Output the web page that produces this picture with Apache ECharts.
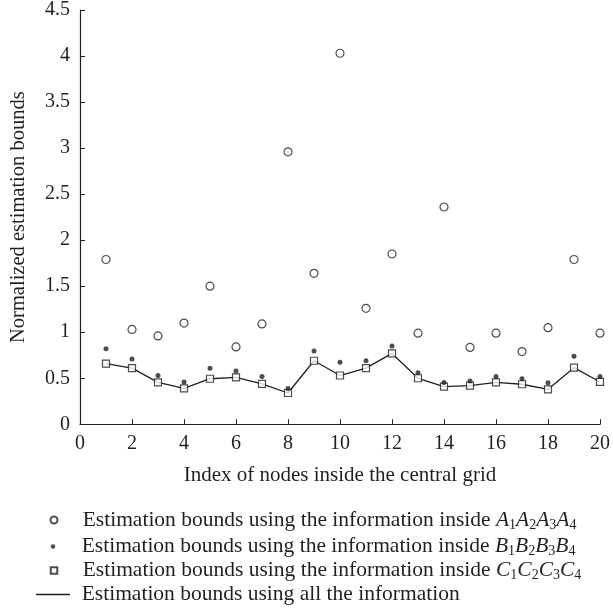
<!DOCTYPE html>
<html>
<head>
<meta charset="utf-8">
<script src="https://cdn.jsdelivr.net/npm/echarts@6/dist/echarts.min.js"></script>
<style>html,body{margin:0;padding:0;background:#fff;}#c{width:613px;height:609px;}</style>
</head>
<body>
<div id="c"></div>
<script>
var nodeIndex = [1,2,3,4,5,6,7,8,9,10,11,12,13,14,15,16,17,18,19,20];
var boundsA = [1.79,1.03,0.96,1.10,1.50,0.84,1.09,2.96,1.64,4.03,1.26,1.85,0.99,2.36,0.835,0.99,0.79,1.05,1.79,0.99];
var boundsB = [0.82,0.71,0.53,0.46,0.61,0.58,0.52,0.39,0.795,0.675,0.69,0.85,0.56,0.455,0.47,0.52,0.495,0.45,0.74,0.52];
var boundsC = [0.66,0.61,0.455,0.39,0.495,0.51,0.44,0.34,0.69,0.53,0.61,0.77,0.50,0.41,0.42,0.455,0.435,0.38,0.615,0.46];
var boundsAll = [0.66,0.61,0.455,0.39,0.495,0.51,0.44,0.34,0.69,0.53,0.61,0.77,0.50,0.41,0.42,0.455,0.435,0.38,0.615,0.46];
var xTicks = {min:0, max:20, interval:2};
var yTicks = {min:0, max:4.5, interval:0.5};

function pairs(v){ return v.map(function(y,i){ return [nodeIndex[i], y]; }); }

var FONT = "'Liberation Serif','DejaVu Serif',serif";
var INK = '#231f20';

function legendLabel(letter){
  if (letter === 'All') return '{g|}{n|Estimation bounds using all the information}';
  var s = '{g|}{n|Estimation bounds using the information inside }';
  for (var k=1;k<=4;k++) s += '{i|' + letter + '}{s|' + k + '}';
  return s;
}
function mkRich(gap){
  return {
    g: {width: gap, height: 1},
    n: {fontFamily: FONT, fontSize: 21.5, color: INK, lineHeight: 24},
    i: {fontFamily: FONT, fontSize: 21.5, fontStyle: 'italic', color: INK, lineHeight: 24},
    s: {fontFamily: FONT, fontSize: 14, color: INK, lineHeight: 16, verticalAlign: 'bottom'}
  };
}
var ICON_X = 53, TEXT_X = 81.7;
function mkLegend(name, icon, top, w, h, leftOverride){
  var left = (leftOverride !== undefined) ? leftOverride : ICON_X - w/2;
  var gap = TEXT_X - (left + w + 5);
  return {
    data: [{name: name, icon: icon}], top: top, left: left, orient: 'vertical',
    itemWidth: w, itemHeight: h, selectedMode: false, padding: 0,
    formatter: function(){ return legendLabel(name); },
    textStyle: {rich: mkRich(gap)}
  };
}

var chart = echarts.init(document.getElementById('c'), null, {renderer:'canvas'});
chart.setOption({
  animation: false,
  backgroundColor: '#fff',
  grid: {left: 76, right: 12, top: 9.4, bottom: 184.7},
  xAxis: {
    type: 'value', min: xTicks.min, max: xTicks.max, interval: xTicks.interval,
    name: 'Index of nodes inside the central grid', nameLocation: 'middle', nameGap: 41,
    nameTextStyle: {fontFamily: FONT, fontSize: 21, color: INK},
    axisLine: {lineStyle: {color: INK, width: 1.2}},
    axisTick: {inside: true, length: 5, lineStyle: {color: INK}},
    axisLabel: {fontFamily: FONT, fontSize: 20, color: INK, margin: 9},
    splitLine: {show: false}
  },
  yAxis: {
    type: 'value', min: yTicks.min, max: yTicks.max, interval: yTicks.interval,
    name: 'Normalized estimation bounds', nameLocation: 'middle', nameGap: 51,
    nameTextStyle: {fontFamily: FONT, fontSize: 20.5, color: INK},
    axisLine: {show: true, lineStyle: {color: INK, width: 1.2}},
    axisTick: {show: true, inside: true, length: 5, lineStyle: {color: INK}},
    axisLabel: {fontFamily: FONT, fontSize: 20, color: INK, margin: 10},
    splitLine: {show: false}
  },
  legend: [
    mkLegend('A', 'circle', 509, 7, 7),
    mkLegend('B', 'circle', 535.5, 4.5, 4.5),
    mkLegend('C', 'rect', 559.5, 6.5, 6.5),
    mkLegend('All', 'rect', 583.5, 34, 1.3, 36)
  ],
  series: [
    {name: 'All', type: 'line', data: pairs(boundsAll), symbol: 'none', z: 1,
     lineStyle: {color: INK, width: 1.3}, itemStyle: {color: INK}},
    {name: 'C', type: 'scatter', data: pairs(boundsC), symbol: 'rect', symbolSize: 7, z: 2,
     itemStyle: {color: '#fff', borderColor: INK, borderWidth: 1.2}},
    {name: 'A', type: 'scatter', data: pairs(boundsA), symbol: 'circle', symbolSize: 8, z: 3,
     itemStyle: {color: '#fff', borderColor: INK, borderWidth: 1.2}},
    {name: 'B', type: 'scatter', data: pairs(boundsB), symbol: 'circle', symbolSize: 5, z: 4,
     itemStyle: {color: INK}}
  ]
});
</script>
</body>
</html>
